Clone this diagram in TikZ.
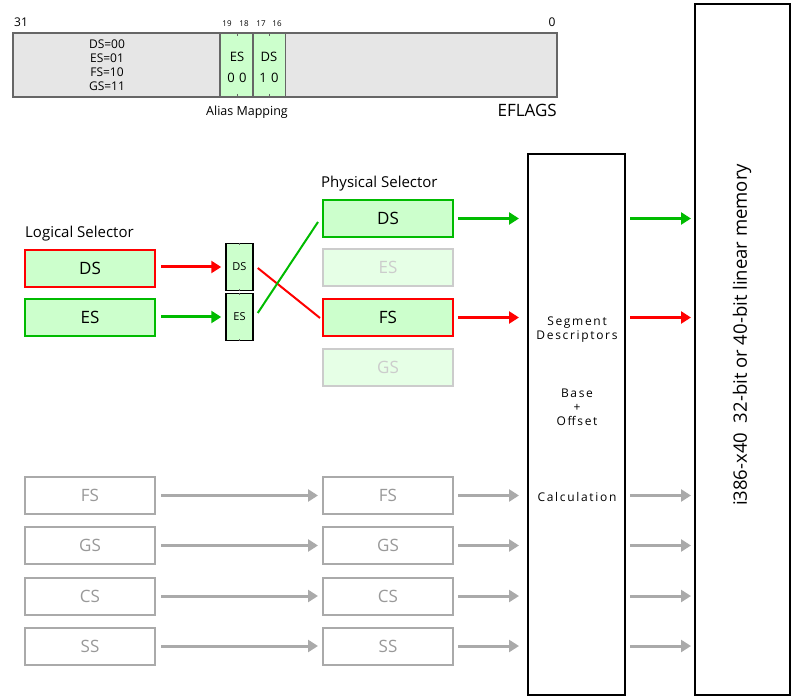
\documentclass[tikz,border=0pt]{standalone}
\usepackage{fontspec}
\setmainfont{Open Sans}
\usetikzlibrary{arrows.meta,calc}
\definecolor{lgreen}{HTML}{CCFFCC}
\definecolor{pgreen}{HTML}{E6FFE6}
\definecolor{dgreen}{HTML}{00BB00}
\definecolor{fadeg}{HTML}{CCCCCC}
\definecolor{greyln}{HTML}{AAAAAA}
\definecolor{greytx}{HTML}{999999}
\definecolor{regfill}{HTML}{E6E6E6}
\definecolor{regline}{HTML}{666666}
\newcommand{\fs}[1]{\fontsize{#1}{#1}\selectfont}
\tikzset{
  selbox/.style={draw, line width=2pt, minimum width=130pt, minimum height=37pt, inner sep=0pt, font=\fs{17}},
  actbox/.style={selbox, fill=lgreen},
  fadebox/.style={selbox, draw=fadeg, fill=pgreen, text=fadeg},
  greybox/.style={selbox, draw=greyln, fill=white, text=greytx},
  smallbox/.style={draw, line width=1.5pt, fill=lgreen, minimum width=27pt, minimum height=47pt, inner sep=0pt, font=\fs{11}},
  arr/.style={line width=3pt, -{Triangle[length=10pt,width=12pt]}},
  lbl/.style={inner sep=0pt, font=\fs{12}},
  seglbl/.style={inner sep=0pt, font=\fs{12}\addfontfeature{LetterSpace=14}, align=center},
  bit/.style={inner sep=0pt, font=\fs{8}}
}
\begin{document}
\begin{tikzpicture}[x=1pt,y=-1pt]
\useasboundingbox (0,0) rectangle (800,700);
% EFLAGS register
\node[draw=regline, line width=1.5pt, fill=regfill, minimum width=544pt, minimum height=64pt, inner sep=0pt] (reg) at (285,65) {};
\node[draw=regline, line width=1.5pt, fill=lgreen, minimum width=33pt, minimum height=64pt, inner sep=0pt] (gb1) at (236.5,65) {};
\node[draw=regline, line width=1.5pt, fill=lgreen, minimum width=32pt, minimum height=64pt, inner sep=0pt] (gb2) at (269.5,65) {};
\foreach \t in {237,269}{
  \draw[regline, line width=1pt] (\t,33) -- (\t,36);
  \draw[regline, line width=1pt] (\t,94) -- (\t,97);
}
\node[lbl] (b31) at (21,22) {31};
\node[lbl] (b0) at (552,22) {0};
\node[bit] (b19) at (227,24) {19};
\node[bit] (b18) at (244,24) {18};
\node[bit] (b17) at (261,24) {17};
\node[bit] (b16) at (277,24) {16};
\node[lbl, align=center, font=\fs{12}\linespread{1.17}\selectfont] (codes) at (107,65) {DS=00\\ES=01\\FS=10\\GS=11};
\node[lbl, font=\fs{13}] (ges) at (237,57) {ES};
\node[lbl, font=\fs{13}] (g00) at (237,78) {0\,\,0};
\node[lbl, font=\fs{13}] (gds) at (269,57) {DS};
\node[lbl, font=\fs{13}] (g10) at (269,78) {1\,\,0};
\node[lbl, font=\fs{12.5}] (alias) at (247,112) {Alias Mapping};
\node[inner sep=0pt, font=\fs{17}, anchor=east] (efl) at (557,110) {EFLAGS};
% titles
\node[inner sep=0pt, font=\fs{15}, anchor=west] (ltitle) at (25,234) {Logical Selector};
\node[inner sep=0pt, font=\fs{15}, anchor=west] (ptitle) at (321,184) {Physical Selector};
% logical selectors
\node[actbox, draw=red] (lds) at (90,268.5) {DS};
\node[actbox, draw=dgreen] (les) at (90,317.5) {ES};
% small alias boxes
\node[smallbox] (mds) at (239.5,267) {DS};
\node[smallbox] (mes) at (239.5,317) {ES};
\foreach \n in {mds,mes}{
  \draw[regline, line width=0.6pt] (\n.north) -- ++(0,2);
  \draw[regline, line width=0.6pt] (\n.south) -- ++(0,-2);
}
% physical selectors
\node[actbox, draw=dgreen] (pds) at (388,218.5) {DS};
\node[fadebox] (pes) at (388,267.5) {ES};
\node[actbox, draw=red] (pfs) at (388,317.5) {FS};
\node[fadebox] (pgs) at (388,367.5) {GS};
% grey selectors
\node[greybox] (lfs) at (90,495.5) {FS};
\node[greybox] (lgs) at (90,545.5) {GS};
\node[greybox] (lcs) at (90,596) {CS};
\node[greybox] (lss) at (90,646) {SS};
\node[greybox] (qfs) at (388,495.5) {FS};
\node[greybox] (qgs) at (388,545.5) {GS};
\node[greybox] (qcs) at (388,596) {CS};
\node[greybox] (qss) at (388,646) {SS};
% segment box
\node[draw, line width=2pt, minimum width=97pt, minimum height=541pt, inner sep=0pt] (seg) at (576.5,424.5) {};
\node[seglbl, font=\fs{12}\addfontfeature{LetterSpace=14}\linespread{1.17}\selectfont] (segd) at (577,330) {Segment\\Descriptors};
\node[seglbl, font=\fs{12}\addfontfeature{LetterSpace=14}\linespread{1.17}\selectfont] (bo) at (577,407) {Base\\+\\Offset};
\node[seglbl] (calc) at (577,497) {Calculation};
% memory box
\node[draw, line width=2pt, minimum width=95pt, minimum height=691pt, inner sep=0pt] (mem) at (742.5,349.5) {};
\node[inner sep=0pt, font=\fs{18.5}, rotate=90] (memt) at (742,335) {i386-x40\ \ 32-bit or 40-bit linear memory};
% arrows logical -> alias
\draw[arr, red, shorten <=5pt, shorten >=4pt] (lds.east |- mds.west) -- (mds.west);
\draw[arr, dgreen, shorten <=5pt, shorten >=4pt] (les.east |- mes.west) -- (mes.west);
% crossing lines
\draw[red, line width=2pt] ($(mds.east)+(4,1)$) -- ($(pfs.west)+(-2,0.5)$);
\draw[dgreen, line width=2pt] ($(mes.east)+(4,-4)$) -- ($(pds.west)+(-4,3.5)$);
% physical -> segment
\draw[arr, dgreen, shorten <=4pt, shorten >=8pt] (pds.east) -- (pds.east -| seg.west);
\draw[arr, red, shorten <=4pt, shorten >=8pt] (pfs.east) -- (pfs.east -| seg.west);
% segment -> memory
\draw[arr, dgreen, shorten <=4pt, shorten >=3pt] (seg.east |- pds.east) -- (mem.west |- pds.east);
\draw[arr, red, shorten <=4pt, shorten >=3pt] (seg.east |- pfs.east) -- (mem.west |- pfs.east);
% grey arrows
\foreach \a/\b in {lfs/qfs,lgs/qgs,lcs/qcs,lss/qss}{
  \draw[arr, greyln, shorten <=5pt, shorten >=4pt] (\a.east) -- (\b.west);
  \draw[arr, greyln, shorten <=4pt, shorten >=8pt] (\b.east) -- (\b.east -| seg.west);
  \draw[arr, greyln, shorten <=4pt, shorten >=3pt] (seg.east |- \b.east) -- (mem.west |- \b.east);
}
\end{tikzpicture}
\end{document}
